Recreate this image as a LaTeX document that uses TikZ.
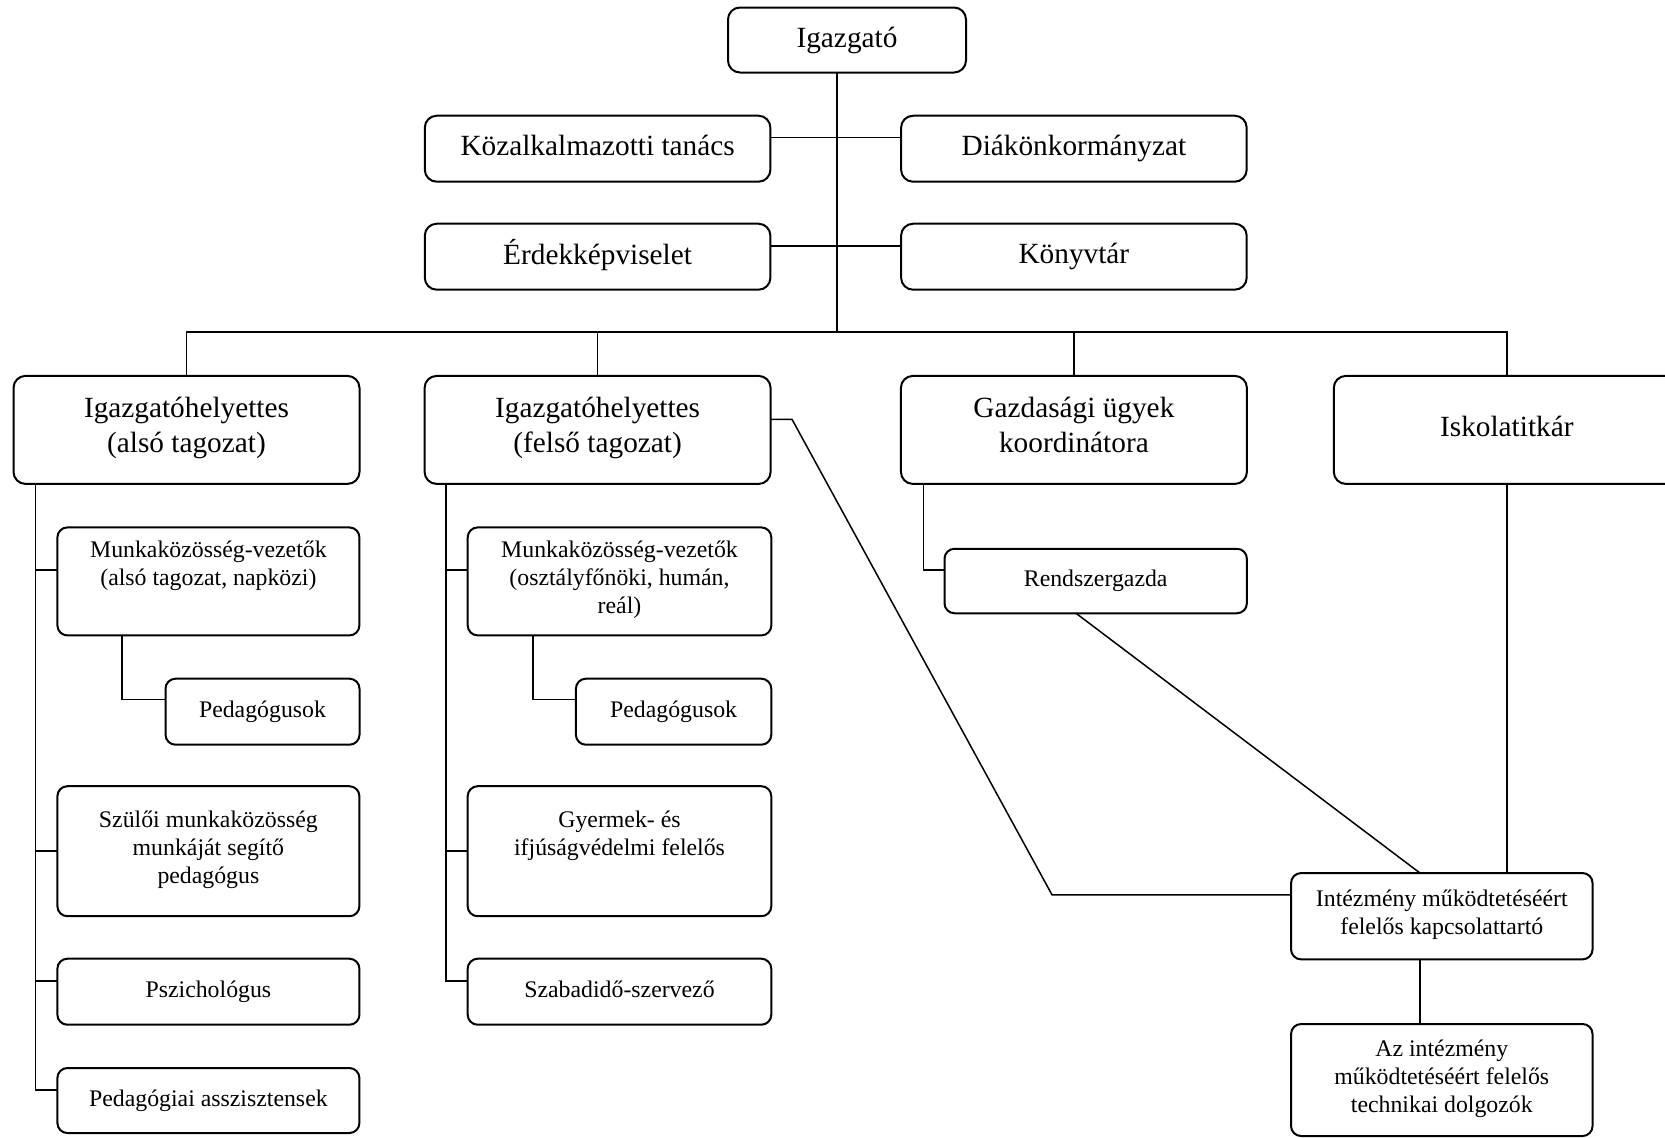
\documentclass[tikz,border=0pt]{standalone}
\usepackage{fontspec}
\setmainfont{Liberation Serif}
\usepackage{tikz}

\begin{document}
\begin{tikzpicture}[x=0.5pt,y=-0.5pt,
  bigbox/.style={draw,line width=1pt,rounded corners=6pt,align=center,inner sep=0pt,outer sep=0pt,
    minimum width=172.8pt,minimum height=33pt,font=\fontsize{14.65}{17.5}\selectfont,
    execute at begin node=\strut,execute at end node=\strut},
  smallbox/.style={draw,line width=1pt,rounded corners=5pt,align=center,inner sep=0pt,outer sep=0pt,
    minimum width=151pt,minimum height=33pt,font=\fontsize{11.9}{14}\selectfont,
    execute at begin node=\strut,execute at end node=\strut},
  every path/.style={line width=0.75pt}]
\useasboundingbox (0,0) rectangle (1665,1137);

% upper levels
\node[bigbox,minimum width=119pt,minimum height=32.5pt] (1) at (847,40) {Igazgató};
\node[bigbox] (2) at (597.6,148.7) {Közalkalmazotti tanács};
\node[bigbox] (3) at (1073.9,148.7) {Diákönkormányzat};
\node[bigbox] (4) at (597.6,256.7) {Érdekképviselet};
\node[bigbox] (5) at (1073.9,256.7) {Könyvtár};

\node[bigbox,minimum height=54pt,minimum width=173pt] (6) at (186.5,429.9) {Igazgatóhelyettes\\(alsó tagozat)};
\node[bigbox,minimum height=54pt,minimum width=173pt] (7) at (597.6,429.9) {Igazgatóhelyettes\\(felső tagozat)};
\node[bigbox,minimum height=54pt,minimum width=173pt] (8) at (1073.9,429.9) {Gazdasági ügyek\\koordinátora};
\node[bigbox,minimum height=54pt,minimum width=173pt] (9) at (1506.8,429.9) {Iskolatitkár};

% alsó tagozat
\node[smallbox,minimum height=54pt] (10) at (208.4,581.4) {Munkaközösség-vezetők\\(alsó tagozat, napközi)\\~};
\node[smallbox,minimum width=97pt] (11) at (262.5,711.7) {Pedagógusok};
\node[smallbox,minimum height=65pt] (12) at (208.4,851.2) {Szülői munkaközösség\\munkáját segítő\\pedagógus};
\node[smallbox] (13) at (208.4,991.7) {Pszichológus};
\node[smallbox,minimum height=32.5pt] (14) at (208.4,1100.5) {Pedagógiai asszisztensek};

% felső tagozat
\node[smallbox,minimum height=54pt,minimum width=151.8pt] (15) at (619.5,581.4) {Munkaközösség-vezetők\\(osztályfőnöki, humán,\\reál)};
\node[smallbox,minimum width=97.7pt] (16) at (673.6,711.7) {Pedagógusok};
\node[smallbox,minimum height=65pt,minimum width=151.8pt] (17) at (619.5,851.2) {Gyermek- és\\ifjúságvédelmi felelős\\~};
\node[smallbox,minimum width=151.8pt] (18) at (619.5,991.7) {Szabadidő-szervező};

% gazdasági oldal
\node[smallbox,minimum width=151.2pt,minimum height=32.25pt] (19) at (1095.7,581) {Rendszergazda};
\node[smallbox,minimum width=150.75pt,minimum height=43.15pt] (20) at (1441.8,916.2) {Intézmény működtetéséért\\felelős kapcsolattartó};
\node[smallbox,minimum width=150.75pt,minimum height=56pt] (21) at (1441.8,1080) {Az intézmény\\működtetéséért felelős\\technikai dolgozók};

\coordinate (bus) at (837,332);
\coordinate (a) at ([xshift=11pt]6.south west);
\coordinate (b) at ([xshift=10.7pt]7.south west);
\coordinate (k) at (1052,894.8);

\draw ([xshift=-5pt]1.south) -- (bus);
\draw ([yshift=5.7pt]2.east) -- ([yshift=5.7pt]3.west);
\draw ([yshift=5.35pt]4.east) -- ([yshift=5.35pt]5.west);
\draw (6.north) |- (bus) -| (9.north);
\draw (7.north) -- (7.north |- bus);
\draw (8.north) -- (8.north |- bus);

\draw (a) |- ([yshift=5.25pt]14.west);
\foreach \n/\s in {10/5.7pt,12/0pt,13/5.35pt}
  \draw ([yshift=\s]\n.west) -| (a);
\draw ([xshift=32.4pt]10.south west) |- ([yshift=6.1pt]11.west);

\draw (b) |- ([yshift=5.35pt]18.west);
\foreach \n/\s in {15/5.7pt,17/0pt}
  \draw ([yshift=\s]\n.west) -| (b);
\draw ([xshift=32.7pt]15.south west) |- ([yshift=6.1pt]16.west);

\draw ([xshift=11.2pt]8.south west) |- ([yshift=5.5pt]19.west);
\draw ([xshift=-9.85pt]19.south) -- ([xshift=-10.9pt]20.north);
\draw (9.south) -- (9.south |- 20.north);
\draw ([yshift=5.3pt]7.east) -- ++(10.7pt,0) -- (k) -- ([yshift=10.7pt]20.west);
\draw ([xshift=-10.9pt]20.south) -- ([xshift=-10.9pt]21.north);
\end{tikzpicture}
\end{document}
